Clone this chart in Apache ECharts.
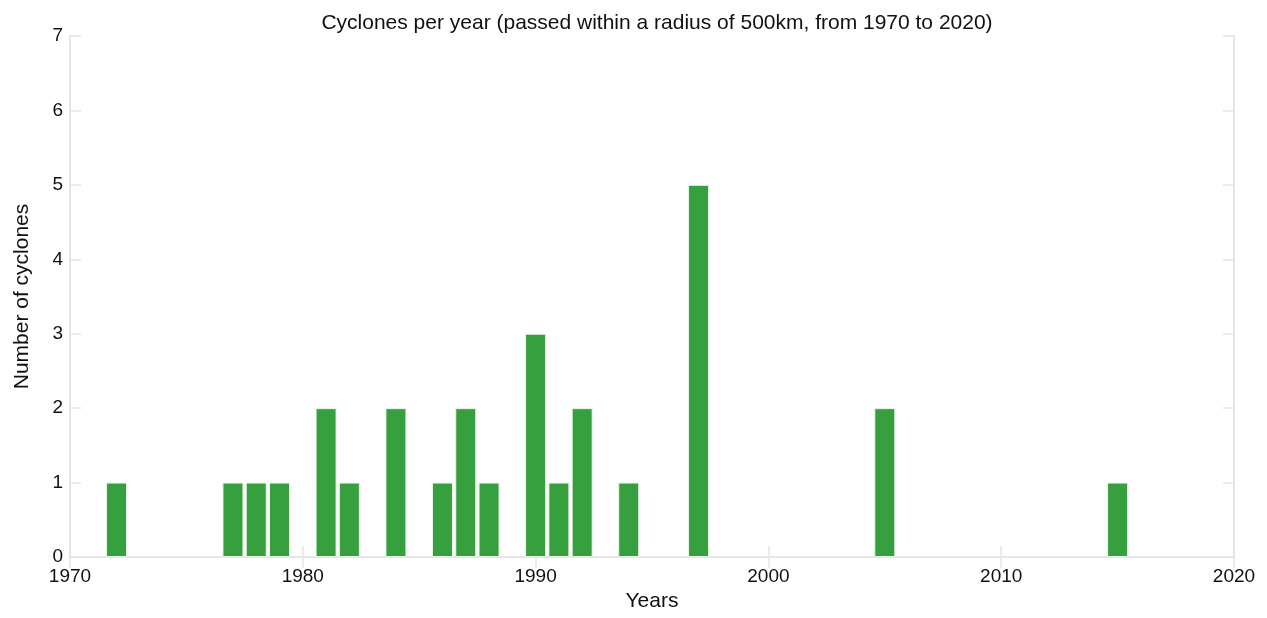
<!DOCTYPE html>
<html lang="en">
<head>
    <meta charset="utf-8">
    <title>Cyclones per year</title>
    <script src="https://cdn.jsdelivr.net/npm/echarts@6/dist/echarts.min.js"></script>
    <style>
        html, body { margin: 0; padding: 0; background: #fff; }
        #main { width: 1267px; height: 618px; }
    </style>
</head>
<body>
    <div id="main"></div>
    <script>
        // years with at least one cyclone, and how many
        var years = [1972, 1977, 1978, 1979, 1981, 1982, 1984, 1986, 1987, 1988, 1990, 1991, 1992, 1994, 1997, 2005, 2015];
        var counts = [1, 1, 1, 1, 2, 1, 2, 1, 2, 1, 3, 1, 2, 1, 5, 2, 1];

        var xMin = 1970, xMax = 2020, xStep = 10;
        var yMin = 0, yMax = 7, yStep = 1;

        var barData = [];
        for (var i = 0; i < years.length; i++) {
            barData.push([years[i], counts[i]]);
        }

        var font = 'Liberation Sans, Arial, sans-serif';
        var frame = '#e6e6e6';

        var myChart = echarts.init(document.getElementById('main'));
        var option = {
            animation: false,
            backgroundColor: '#fff',
            title: {
                text: 'Cyclones per year (passed within a radius of 500km, from 1970 to 2020)',
                left: 652,
                textAlign: 'center',
                top: 8,
                textStyle: { fontFamily: font, fontSize: 21, fontWeight: 'normal', color: '#111' }
            },
            grid: { left: 70, right: 33, top: 36, bottom: 61, outerBoundsMode: 'none' },
            xAxis: [{
                type: 'value',
                min: xMin, max: xMax, interval: xStep,
                name: 'Years',
                nameLocation: 'middle',
                nameGap: 34,
                nameTextStyle: { fontFamily: font, fontSize: 21, color: '#111' },
                axisLine: { show: true, lineStyle: { color: frame, width: 2 } },
                axisTick: { show: true, inside: true, length: 11, lineStyle: { color: frame, width: 1.5 } },
                axisLabel: {
                    fontFamily: font, fontSize: 19, color: '#111', margin: 10,
                    formatter: function (v) { return String(v); }
                },
                splitLine: { show: false }
            }, {
                type: 'value', position: 'top',
                min: xMin, max: xMax, interval: xStep,
                axisLine: { show: true, lineStyle: { color: frame, width: 2 } },
                axisTick: { show: true, inside: true, length: 11, lineStyle: { color: frame, width: 1.5 } },
                axisLabel: { show: false },
                splitLine: { show: false }
            }],
            yAxis: [{
                type: 'value',
                min: yMin, max: yMax, interval: yStep,
                name: 'Number of cyclones',
                nameLocation: 'middle',
                nameGap: 37,
                nameTextStyle: { fontFamily: font, fontSize: 21, color: '#111' },
                axisLine: { show: true, lineStyle: { color: frame, width: 2 } },
                axisTick: { show: true, inside: true, length: 11, lineStyle: { color: frame, width: 1.5 } },
                axisLabel: { fontFamily: font, fontSize: 19, color: '#111', margin: 7 },
                splitLine: { show: false }
            }, {
                type: 'value', position: 'right',
                min: yMin, max: yMax, interval: yStep,
                axisLine: { show: true, lineStyle: { color: frame, width: 2 } },
                axisTick: { show: true, inside: true, length: 11, lineStyle: { color: frame, width: 1.5 } },
                axisLabel: { show: false },
                splitLine: { show: false }
            }],
            series: [{
                type: 'bar',
                xAxisIndex: 0,
                yAxisIndex: 0,
                barWidth: 21,
                itemStyle: { color: '#37a03e', borderColor: '#e8f3e8', borderWidth: 1 },
                data: barData
            }]
        };
        myChart.setOption(option);
    </script>
</body>
</html>
